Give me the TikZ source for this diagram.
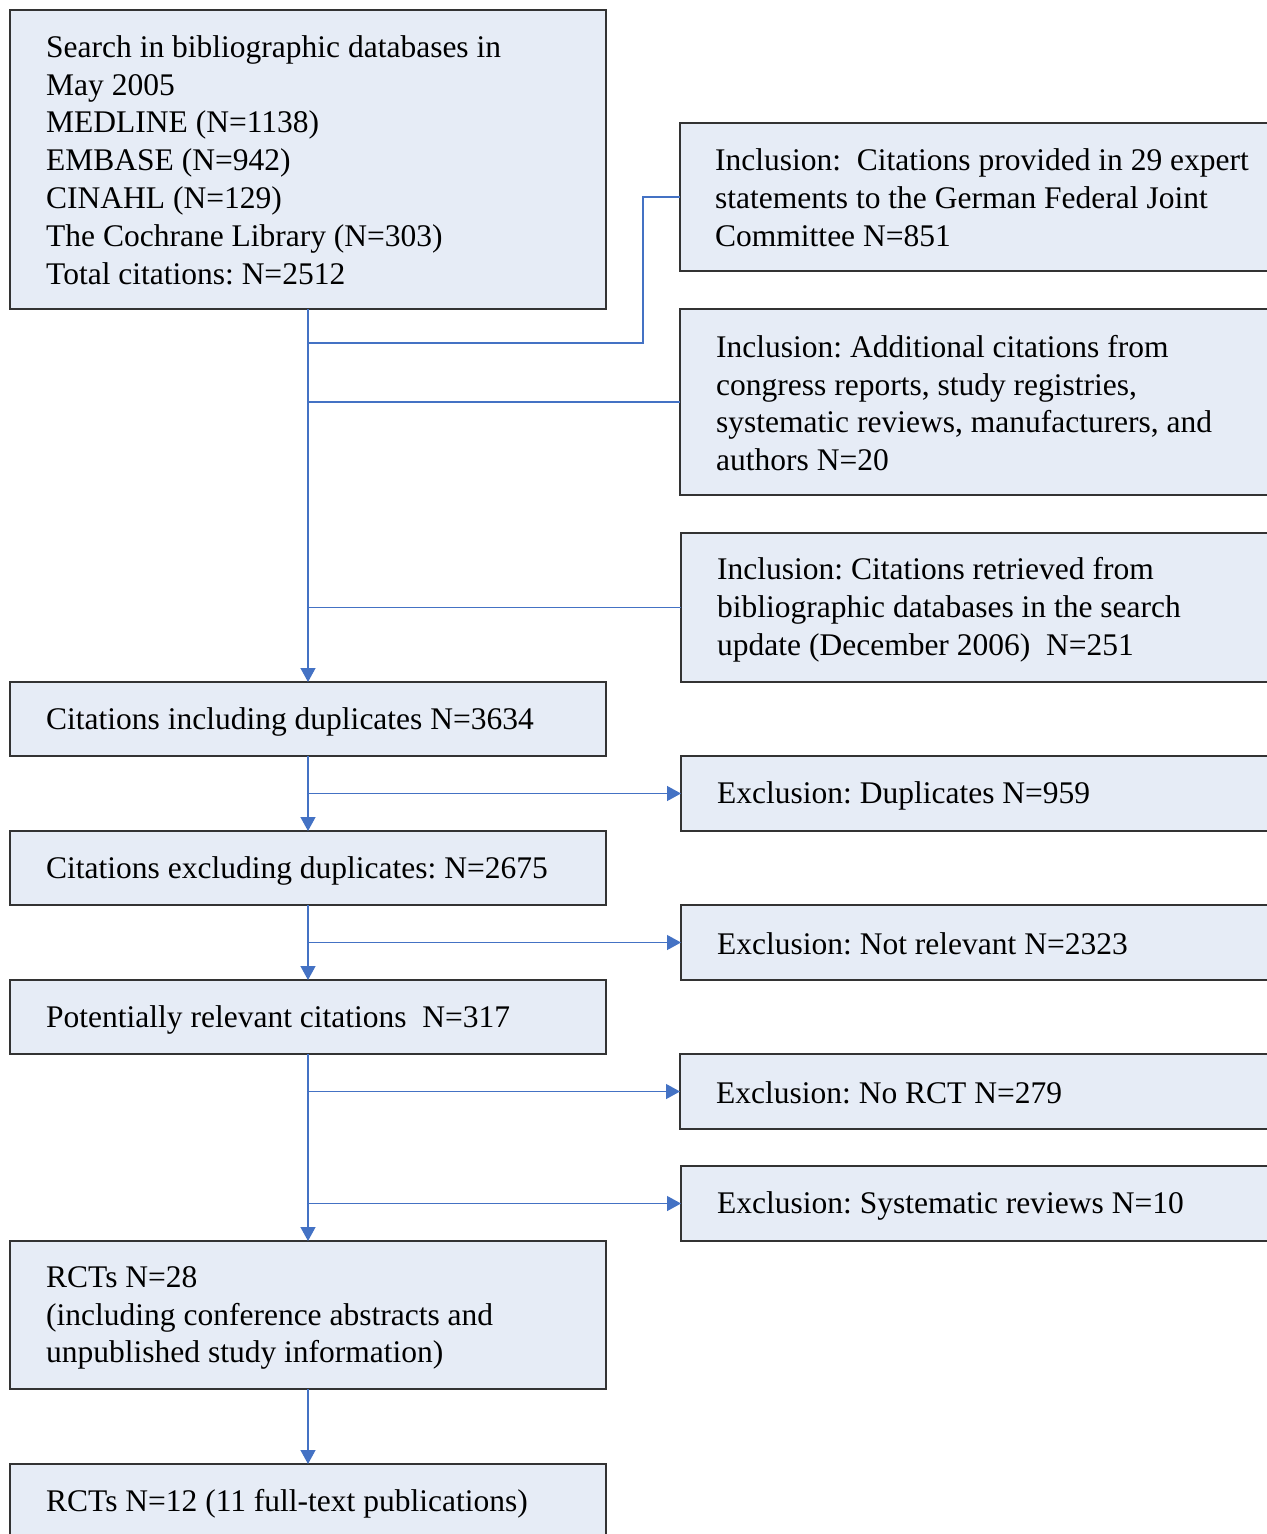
\documentclass[tikz,border=0pt]{standalone}
\usepackage{fontspec}
\setmainfont{Liberation Serif}
\usetikzlibrary{arrows.meta,calc}
\definecolor{boxfill}{HTML}{E6ECF6}
\definecolor{linkblue}{HTML}{4472C4}
\definecolor{boxline}{HTML}{333333}
\frenchspacing
\begin{document}
\begin{tikzpicture}[x=1bp,y=-1bp,
 box/.style={draw=boxline, line width=1.3bp, fill=boxfill, rectangle, inner sep=0pt, outer sep=0pt, anchor=north west},
 txt/.style={anchor=west, inner sep=0pt, align=left, font=\fontsize{31.5bp}{37.8bp}\selectfont\frenchspacing},
 link/.style={draw=linkblue, line width=1.3bp},
 arr/.style={link, -{Triangle[width=15bp,length=14bp]}}]
\useasboundingbox (0,0) rectangle (1266,1534);
% boxes
\node[box, minimum width=596bp, minimum height=299bp] (b1) at (10,10) {};
\node[box, minimum width=600bp, minimum height=148bp] (r1) at (680,123) {};
\node[box, minimum width=600bp, minimum height=186bp] (r2) at (680,309) {};
\node[box, minimum width=600bp, minimum height=149bp] (r3) at (681,533) {};
\node[box, minimum width=596bp, minimum height=74bp] (c1) at (10,682) {};
\node[box, minimum width=600bp, minimum height=75bp] (e1) at (681,756) {};
\node[box, minimum width=596bp, minimum height=74bp] (c2) at (10,831) {};
\node[box, minimum width=600bp, minimum height=75bp] (e2) at (681,905) {};
\node[box, minimum width=596bp, minimum height=74bp] (c3) at (10,980) {};
\node[box, minimum width=600bp, minimum height=75bp] (e3) at (680,1054) {};
\node[box, minimum width=600bp, minimum height=75bp] (e4) at (681,1166) {};
\node[box, minimum width=596bp, minimum height=148bp] (c4) at (10,1241) {};
\node[box, minimum width=596bp, minimum height=74bp] (c5) at (10,1464) {};
% texts
\node[txt] (tb1) at ($(b1.west)+(36,0.5)$) {Search in bibliographic databases in\\May 2005\\MEDLINE (N=1138)\\EMBASE (N=942)\\CINAHL (N=129)\\The Cochrane Library (N=303)\\Total citations: N=2512};
\node[txt] (tr1) at ($(r1.west)+(35,1)$) {Inclusion:\ \ Citations provided in 29 expert\\statements to the German Federal Joint\\Committee N=851};
\node[txt] (tr2) at ($(r2.west)+(36,1)$) {Inclusion: Additional citations from\\congress reports, study registries,\\systematic reviews, manufacturers, and\\authors N=20};
\node[txt] (tr3) at ($(r3.west)+(36,2)$) {Inclusion: Citations retrieved from\\bibliographic databases in the search\\update (December 2006)\ \ N=251};
\node[txt] (tc1) at ($(c1.west)+(36,3)$) {Citations including duplicates N=3634};
\node[txt] (te1) at ($(e1.west)+(36,2.5)$) {Exclusion: Duplicates N=959};
\node[txt] (tc2) at ($(c2.west)+(36,3)$) {Citations excluding duplicates: N=2675};
\node[txt] (te2) at ($(e2.west)+(36,1)$) {Exclusion: Not relevant N=2323};
\node[txt] (tc3) at ($(c3.west)+(36,3)$) {Potentially relevant citations\ \ N=317};
\node[txt] (te3) at ($(e3.west)+(36,1)$) {Exclusion: No RCT N=279};
\node[txt] (te4) at ($(e4.west)+(36,2.5)$) {Exclusion: Systematic reviews N=10};
\node[txt] (tc4) at ($(c4.west)+(36,3)$) {RCTs N=28\\(including conference abstracts and\\unpublished study information)};
\node[txt] (tc5) at ($(c5.west)+(36,3)$) {RCTs N=12 (11 full-text publications)};
% connectors
\coordinate (j1) at (308,343);
\coordinate (k1) at (643,343);
\draw[link] (r1.west) -| (k1) -- (j1);
\draw[link] (r2.west) -- (r2.west -| b1.south);
\draw[link] (r3.west) -- (r3.west -| b1.south);
\draw[arr] (b1.south) -- (c1.north);
\draw[arr] (c1.south) -- (c2.north);
\draw[arr] (c1.south |- e1.west) -- (e1.west);
\draw[arr] (c2.south) -- (c3.north);
\draw[arr] (c2.south |- e2.west) -- (e2.west);
\draw[arr] (c3.south) -- (c4.north);
\draw[arr] (c3.south |- e3.west) -- (e3.west);
\draw[arr] (c3.south |- e4.west) -- (e4.west);
\draw[arr] (c4.south) -- (c5.north);
\end{tikzpicture}
\end{document}
